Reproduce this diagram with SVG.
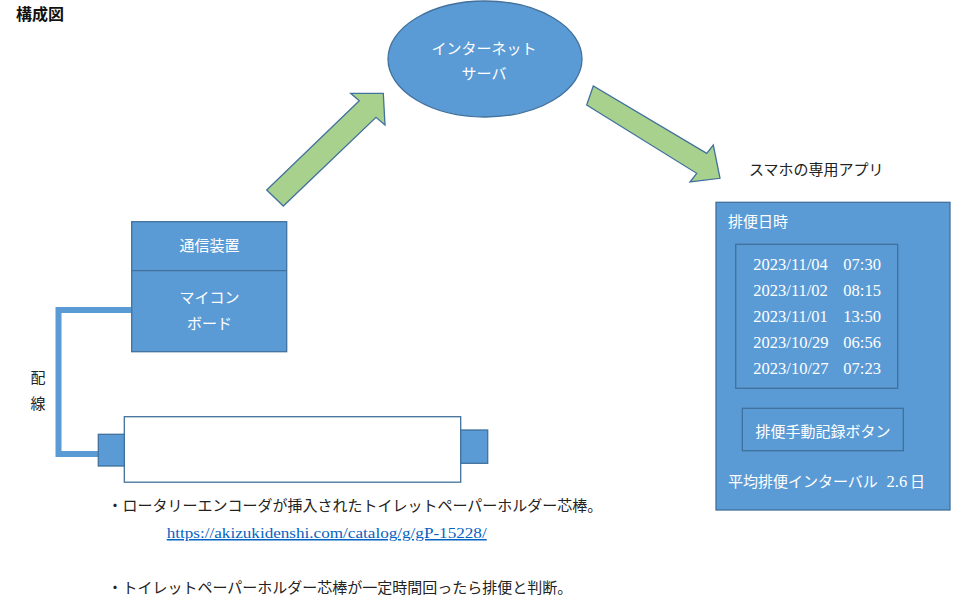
<svg xmlns="http://www.w3.org/2000/svg" width="957" height="597" viewBox="0 0 957 597">
<style>
.blue{fill:#5b9bd5;stroke:#41719c;stroke-width:1.3}
.arrow{fill:#a9d18e;stroke:#41719c;stroke-width:1.3}
.jw{font-family:"Noto Sans CJK JP","Liberation Sans",sans-serif;fill:#ffffff;font-size:15px}
.jb{font-family:"Noto Sans CJK JP","Liberation Sans",sans-serif;fill:#222222;font-size:15px}
.num{font-family:"Liberation Serif","Noto Sans CJK JP",serif;fill:#ffffff;font-size:16.5px}
</style>
<rect width="957" height="597" fill="#ffffff"/>
<text x="16" y="20" font-family="Noto Sans CJK JP, Liberation Sans, sans-serif" font-weight="bold" font-size="16" fill="#111111">構成図</text>

<g id="server">
<ellipse class="blue" cx="485" cy="59" rx="97" ry="58"/>
<text class="jw" x="484" y="53.5" text-anchor="middle">インターネット</text>
<text class="jw" x="484" y="78.5" text-anchor="middle">サーバ</text>
</g>

<g id="connectors">
<polygon class="arrow" points="266.7,190 283.3,206 376,117.3 385,125 383.3,93.3 350.7,93.3 359.3,100.7"/>
<polygon class="arrow" points="593.3,86 586.7,105 696.7,173.3 690,182 720,178.3 713.3,145 706.7,153.3"/>
<polyline points="131,310 58.5,310 58.5,454 98.5,454" fill="none" stroke="#5b9bd5" stroke-width="6"/>
</g>

<g id="device">
<rect class="blue" x="131.7" y="221.7" width="155" height="130"/>
<line x1="131.7" y1="270.7" x2="286.7" y2="270.7" stroke="#41719c" stroke-width="1.3"/>
<text class="jw" x="209.5" y="250.5" text-anchor="middle">通信装置</text>
<text class="jw" x="209.5" y="303" text-anchor="middle">マイコン</text>
<text class="jw" x="209.5" y="328.5" text-anchor="middle">ボード</text>
</g>

<g id="wire-label">
<text class="jb" x="38" y="382.5" text-anchor="middle">配</text>
<text class="jb" x="38" y="408.5" text-anchor="middle">線</text>
</g>

<g id="holder">
<rect x="124.3" y="416.7" width="336.4" height="65.5" fill="#ffffff" stroke="#41719c" stroke-width="1.3"/>
<rect class="blue" x="98.3" y="434.3" width="26" height="31.7"/>
<rect class="blue" x="460.7" y="430" width="27" height="33.3"/>
</g>

<g id="app-title">
<text class="jb" x="749" y="174.5" font-size="14.7">スマホの専用アプリ</text>
</g>

<g id="app">
<rect class="blue" x="716" y="202.3" width="234" height="307.7"/>
<text class="jw" x="728" y="227">排便日時</text>
<rect x="735.7" y="244.3" width="162" height="144" fill="none" stroke="#41719c" stroke-width="1.3"/>
<text class="num" x="753.3" y="269.5">2023/11/04</text><text class="num" x="843.3" y="269.5">07:30</text>
<text class="num" x="753.3" y="295.5">2023/11/02</text><text class="num" x="843.3" y="295.5">08:15</text>
<text class="num" x="753.3" y="321.5">2023/11/01</text><text class="num" x="843.3" y="321.5">13:50</text>
<text class="num" x="753.3" y="347.5">2023/10/29</text><text class="num" x="843.3" y="347.5">06:56</text>
<text class="num" x="753.3" y="373.5">2023/10/27</text><text class="num" x="843.3" y="373.5">07:23</text>
<g id="record-button">
<rect x="742.3" y="408.3" width="161" height="42.4" fill="none" stroke="#41719c" stroke-width="1.3"/>
<text class="jw" x="823" y="437" text-anchor="middle">排便手動記録ボタン</text>
</g>
<text class="jw" x="728" y="487">平均排便インターバル<tspan x="886.5" font-family="Liberation Serif, serif" font-size="16.5">2.6</tspan><tspan x="910">日</tspan></text>
</g>

<g id="notes">
<text class="jb" x="107.5" y="510.5" font-size="15.2">・ロータリーエンコーダが挿入されたトイレットペーパーホルダー芯棒。</text>
<text x="166.7" y="538" font-family="Liberation Serif, serif" font-size="15" fill="#0563c1" text-decoration="underline" textLength="320" lengthAdjust="spacingAndGlyphs">https://akizukidenshi.com/catalog/g/gP-15228/</text>
<text class="jb" x="107.5" y="592.5" font-size="15.2">・トイレットペーパーホルダー芯棒が一定時間回ったら排便と判断。</text>
</g>
</svg>
